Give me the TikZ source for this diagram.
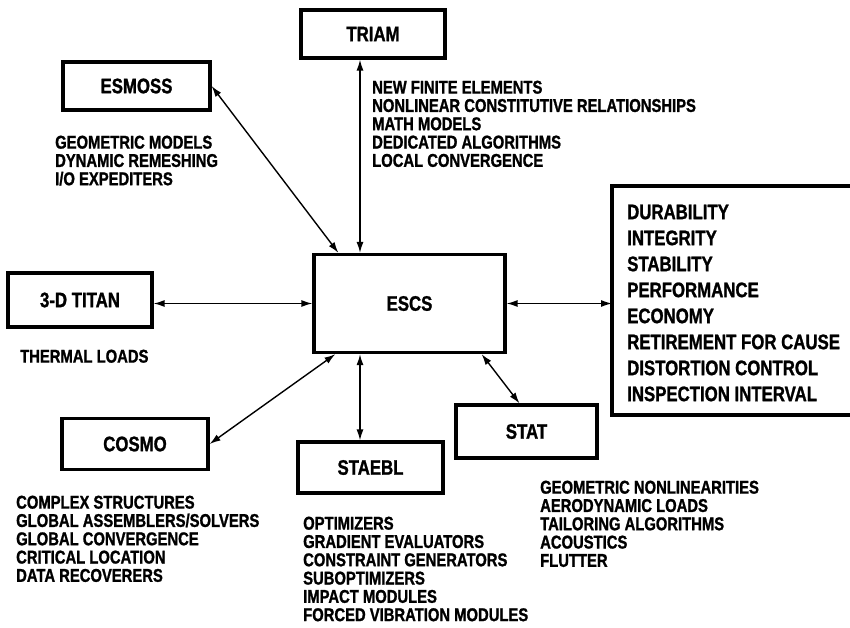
\documentclass[tikz,border=0pt]{standalone}
\usepackage{fontspec}
\newfontfamily\condfont{Liberation Sans}[FakeStretch=0.8, BoldFeatures={FakeBold=1.2}]
\usetikzlibrary{arrows.meta}

\begin{document}
\begin{tikzpicture}[x=1pt, y=-1pt,
    box/.style={draw, line width=3.2pt, inner sep=0pt,
        font=\condfont\bfseries\fontsize{21}{21}\selectfont},
    items/.style={anchor=north west, align=left, inner sep=0pt,
        font=\condfont\bfseries\fontsize{18.5}{18.3}\selectfont},
    link/.style={{Latex[length=11pt,width=7pt]}-{Latex[length=11pt,width=7pt]}, line width=1.4pt}]

    \useasboundingbox (0,0) rectangle (850,628);

    % Programmi (riquadri)
    \node[box, minimum width=191, minimum height=98] (escs) at (409.5,303.5) {ESCS};
    \node[box, minimum width=144, minimum height=48] (triam) at (373,34) {TRIAM};
    \node[box, minimum width=147, minimum height=48] (esmoss) at (136.5,86) {ESMOSS};
    \node[box, minimum width=144, minimum height=54] (titan) at (80,300) {3-D TITAN};
    \node[box, minimum width=146, minimum height=51] (cosmo) at (135,444) {COSMO};
    \node[box, minimum width=145, minimum height=51] (staebl) at (370.5,467.5) {STAEBL};
    \node[box, minimum width=141, minimum height=53] (stat) at (526.5,431.5) {STAT};

    % Elenchi
    \node[items] (esmosslist) at (55,135.5) {GEOMETRIC MODELS\\DYNAMIC REMESHING\\I/O EXPEDITERS};
    \node[items] (triamlist) at (372,80.5) {NEW FINITE ELEMENTS\\NONLINEAR CONSTITUTIVE RELATIONSHIPS\\MATH MODELS\\DEDICATED ALGORITHMS\\LOCAL CONVERGENCE};
    \node[items] (titanlist) at (20,349.5) {THERMAL LOADS};
    \node[items] (cosmolist) at (16,495.5) {COMPLEX STRUCTURES\\GLOBAL ASSEMBLERS/SOLVERS\\GLOBAL CONVERGENCE\\CRITICAL LOCATION\\DATA RECOVERERS};
    \node[items] (staebllist) at (303,516.5) {OPTIMIZERS\\GRADIENT EVALUATORS\\CONSTRAINT GENERATORS\\SUBOPTIMIZERS\\IMPACT MODULES\\FORCED VIBRATION MODULES};
    \node[items] (statlist) at (540,480.5) {GEOMETRIC NONLINEARITIES\\AERODYNAMIC LOADS\\TAILORING ALGORITHMS\\ACOUSTICS\\FLUTTER};

    % Riquadro aperto a destra
    \coordinate (ftl) at (612,186);
    \coordinate (fbl) at (612,415);
    \draw[line width=3.2pt] (850,186) -- (ftl) -- (fbl) -- (850,415);
    \node[items, font=\condfont\bfseries\fontsize{21}{26}\selectfont] (goals) at (627,204.5)
        {DURABILITY\\INTEGRITY\\STABILITY\\PERFORMANCE\\ECONOMY\\RETIREMENT FOR CAUSE\\DISTORTION CONTROL\\INSPECTION INTERVAL};

    % Collegamenti
    \draw[link] (esmoss.east) -- ([xshift=26pt]escs.north west);
    \draw[link] ([xshift=-13pt]triam.south) -- ([xshift=-13pt]triam.south |- escs.north);
    \draw[link] (escs.west -| titan.east) -- (escs.west);
    \draw[link] (escs.east) -- (escs.east -| ftl);
    \draw[link] (cosmo.east) -- ([xshift=23pt]escs.south west);
    \draw[link] ([xshift=-10.5pt]staebl.north) -- ([xshift=-10.5pt]staebl.north |- escs.south);
    \draw[link] ([xshift=-7pt]stat.north) -- ([xshift=-25pt]escs.south east);

\end{tikzpicture}
\end{document}
